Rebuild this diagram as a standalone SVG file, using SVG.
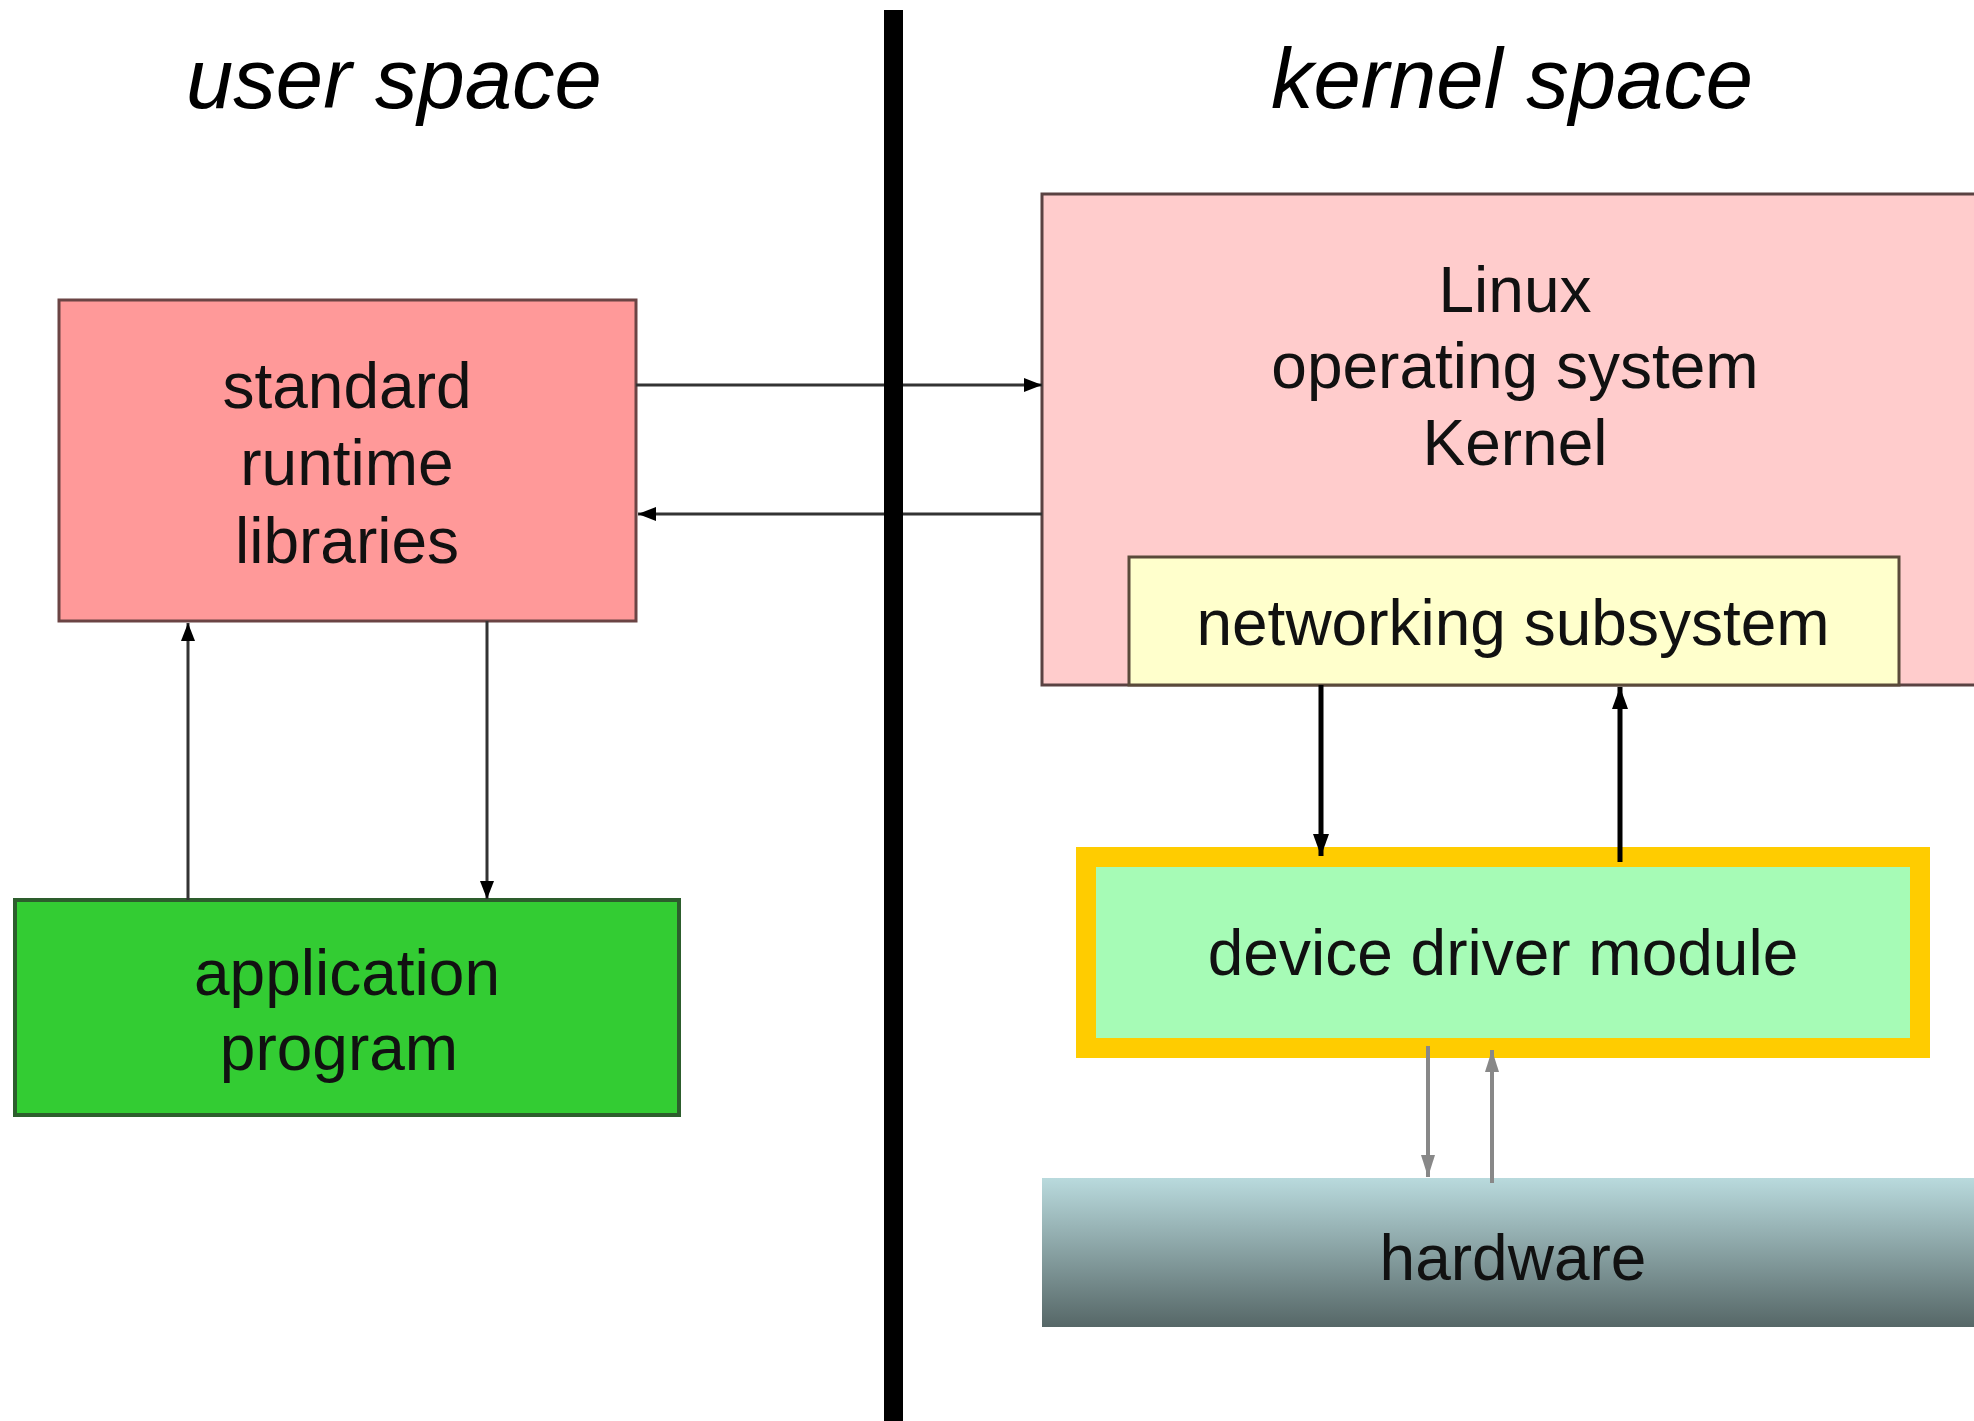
<svg xmlns="http://www.w3.org/2000/svg" width="1974" height="1421" viewBox="0 0 1974 1421">
<style>
.t{font-family:"Liberation Sans",Arial,sans-serif;font-size:64px;fill:#111;text-anchor:middle}
.h{font-family:"Liberation Sans",Arial,sans-serif;font-size:85px;font-style:italic;fill:#000;text-anchor:middle}
.thin{stroke:#333;stroke-width:3;fill:none}
.thick{stroke:#000;stroke-width:5;fill:none}
.grey{stroke:#888;stroke-width:4;fill:none}
</style>
<defs>
<marker id="ah" markerUnits="userSpaceOnUse" markerWidth="18" markerHeight="14" refX="18" refY="7" orient="auto"><path d="M0,0 L18,7 L0,14 Z" fill="#000"/></marker>
<marker id="ahb" markerUnits="userSpaceOnUse" markerWidth="22" markerHeight="16" refX="22" refY="8" orient="auto"><path d="M0,0 L22,8 L0,16 Z" fill="#000"/></marker>
<marker id="ahg" markerUnits="userSpaceOnUse" markerWidth="22" markerHeight="14" refX="22" refY="7" orient="auto"><path d="M0,0 L22,7 L0,14 Z" fill="#888"/></marker>
<linearGradient id="hw" x1="0" y1="0" x2="0" y2="1"><stop offset="0" stop-color="#b9dadd"/><stop offset="1" stop-color="#566767"/></linearGradient>
</defs>
<rect width="1974" height="1421" fill="#fff"/>
<text class="h" x="394" y="108">user space</text>
<text class="h" x="1512" y="108">kernel space</text>
<g id="kernel"><rect x="1042" y="194" width="960" height="491" fill="#ffcccc" stroke="#5a4242" stroke-width="3"/>
<text class="t" x="1515" y="312">Linux</text><text class="t" x="1515" y="388">operating system</text><text class="t" x="1515" y="465">Kernel</text></g>
<g id="networking"><rect x="1129" y="557" width="770" height="128" fill="#ffffcc" stroke="#5a4a3a" stroke-width="3"/>
<text class="t" x="1513" y="645">networking subsystem</text></g>
<g id="stdlib"><rect x="59" y="300" width="577" height="321" fill="#ff9999" stroke="#6b4444" stroke-width="3"/>
<text class="t" x="347" y="408">standard</text><text class="t" x="347" y="485">runtime</text><text class="t" x="347" y="563">libraries</text></g>
<g id="app"><rect x="15" y="900" width="664" height="215" fill="#33cc33" stroke="#2d5e2d" stroke-width="4"/>
<text class="t" x="347" y="995">application</text><text class="t" x="339" y="1070">program</text></g>
<g id="driver"><rect x="1086" y="857" width="834" height="191" fill="#a6fbb6" stroke="#ffcc00" stroke-width="20"/>
<text class="t" x="1503" y="975">device driver module</text></g>
<g id="hardware"><rect x="1042" y="1178" width="960" height="149" fill="url(#hw)"/>
<text class="t" x="1513" y="1280">hardware</text></g>
<g id="connectors">
<line class="thin" x1="636" y1="385" x2="1042" y2="385" marker-end="url(#ah)"/>
<line class="thin" x1="1042" y1="514" x2="638" y2="514" marker-end="url(#ah)"/>
<line class="thin" x1="188" y1="900" x2="188" y2="623" marker-end="url(#ah)"/>
<line class="thin" x1="487" y1="621" x2="487" y2="899" marker-end="url(#ah)"/>
<line class="thick" x1="1321" y1="685" x2="1321" y2="856" marker-end="url(#ahb)"/>
<line class="thick" x1="1620" y1="862" x2="1620" y2="687" marker-end="url(#ahb)"/>
<line class="grey" x1="1428" y1="1046" x2="1428" y2="1177" marker-end="url(#ahg)"/>
<line class="grey" x1="1492" y1="1183" x2="1492" y2="1050" marker-end="url(#ahg)"/>
</g>
<rect id="divider" x="884" y="10" width="19" height="1411" fill="#000"/>
</svg>
